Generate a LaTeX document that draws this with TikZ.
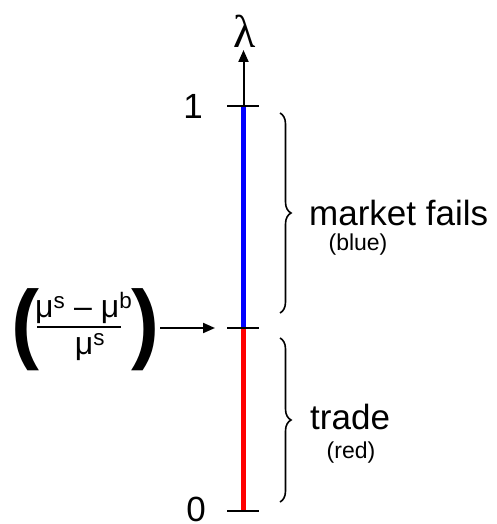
\documentclass[tikz,border=0pt]{standalone}
\usepackage{fontspec}
\setmainfont{Liberation Sans}
\newfontfamily\lamfont{Liberation Serif}
\usetikzlibrary{decorations.pathreplacing,arrows.meta}
\tikzset{
  tick/.style={line width=2pt},
  axisline/.style={line width=2pt,-{Triangle[length=12pt,width=10pt]}},
  seg/.style={line width=5pt},
  curly/.style={decorate,decoration={brace,amplitude=11pt},line width=1.6pt},
  bigtxt/.style={inner sep=0pt,font=\fontsize{35}{40}\selectfont},
  smalltxt/.style={inner sep=0pt,font=\fontsize{23}{26}\selectfont},
  paren/.style={inner sep=0pt,font=\bfseries\fontsize{84}{92}\selectfont,yscale=1.05},
}
\begin{document}
\begin{tikzpicture}[x=1pt,y=-1pt]
\useasboundingbox (0,0) rectangle (496,524);
% axis coordinates
\coordinate (top) at (243.5,106);
\coordinate (mid) at (243.5,328);
\coordinate (bot) at (243.5,511);
\coordinate (tip) at (243.5,50);
\coordinate (t1l) at (227,106); \coordinate (t1r) at (259,106);
\coordinate (tml) at (227,328); \coordinate (tmr) at (259,328);
\coordinate (t0l) at (227,511); \coordinate (t0r) at (259,511);
% axis
\draw[axisline] (top) -- (tip);
\draw[seg,blue] (top) -- (mid);
\draw[seg,red] (mid) -- (bot);
\draw[tick] (t1l) -- (t1r);
\draw[tick] (tml) -- (tmr);
\draw[tick] (t0l) -- (t0r);
% labels
\node[inner sep=0pt,font=\lamfont\fontsize{46}{50}\selectfont] (lam) at (245,31) {λ};
\node[bigtxt] (one) at (193,106) {1};
\node[bigtxt] (zero) at (196,509) {0};
% braces
\coordinate (b1s) at (280,113); \coordinate (b1e) at (280,313);
\coordinate (b2s) at (280,338); \coordinate (b2e) at (280,502);
\draw[curly] (b1s) -- (b1e);
\draw[curly] (b2s) -- (b2e);
\node[bigtxt,anchor=west] (mf) at (309,213) {market fails};
\node[smalltxt] (blue) at (358,245) {(blue)};
\node[bigtxt,anchor=west] (trade) at (310,417) {trade};
\node[smalltxt] (red) at (351,453) {(red)};
% fraction
\node[paren] (lp) at (25,330) {(};
\node[paren] (rp) at (145,330) {)};
\node[inner sep=0pt,anchor=west,font=\fontsize{32}{36}\selectfont] (num) at (35,308) {μ\textsuperscript{s} – μ\textsuperscript{b}};
\coordinate (barl) at (37,327); \coordinate (barr) at (121,327);
\draw[line width=2pt] (barl) -- (barr);
\node[inner sep=0pt,font=\fontsize{32}{36}\selectfont] (den) at (90,347) {μ\textsuperscript{s}};
\coordinate (arrs) at (160,328); \coordinate (arre) at (215,328);
\draw[line width=2pt,-{Triangle[length=12pt,width=10pt]}] (arrs) -- (arre);
\end{tikzpicture}
\end{document}
